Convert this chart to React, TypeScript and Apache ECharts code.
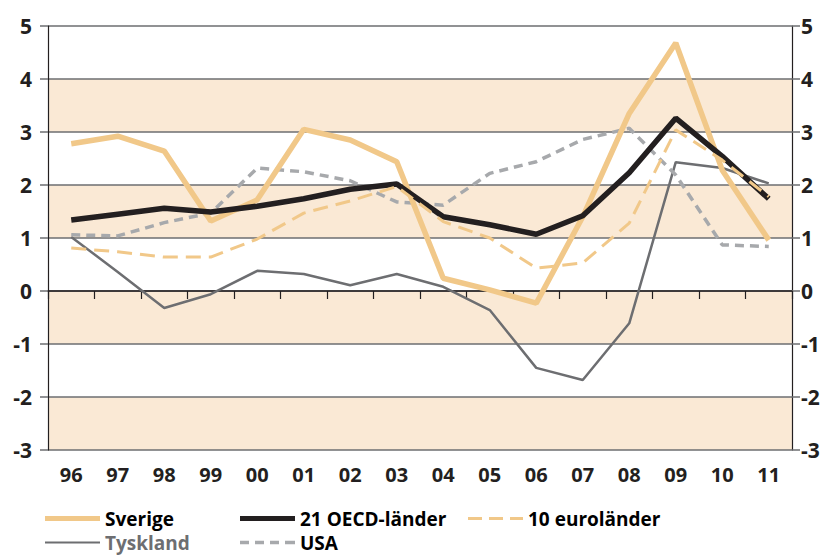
import React, { useEffect, useRef } from "react";
import * as echarts from "echarts";

const categories = ["96", "97", "98", "99", "00", "01", "02", "03", "04", "05", "06", "07", "08", "09", "10", "11"];
const sverige = [2.78, 2.92, 2.64, 1.32, 1.72, 3.05, 2.85, 2.44, 0.24, 0.02, -0.23, 1.4, 3.35, 4.68, 2.28, 0.96];
const oecd = [1.34, 1.45, 1.56, 1.49, 1.6, 1.74, 1.92, 2.02, 1.4, 1.25, 1.07, 1.42, 2.23, 3.26, 2.54, 1.74];
const euro10 = [0.81, 0.74, 0.64, 0.64, 0.98, 1.47, 1.7, 1.97, 1.31, 1.0, 0.43, 0.53, 1.28, 3.04, 2.47, 1.78];
const tyskland = [1.02, 0.36, -0.32, -0.06, 0.38, 0.32, 0.11, 0.32, 0.08, -0.36, -1.45, -1.68, -0.61, 2.43, 2.32, 2.03];
const usa = [1.06, 1.04, 1.29, 1.47, 2.32, 2.25, 2.08, 1.68, 1.62, 2.22, 2.44, 2.86, 3.07, 2.19, 0.87, 0.84];
const yTicks = [-3, -2, -1, 0, 1, 2, 3, 4, 5];

const FONT = "'Liberation Sans Narrow', 'Open Sans', sans-serif";
const ORANGE = "#F1C889";
const BLACK = "#231F20";
const DGRAY = "#6D6E71";
const LGRAY = "#A7A9AC";
const BAND = "#FAE9D5";

export default function App() {
  const ref = useRef<HTMLDivElement>(null);
  useEffect(() => {
    if (!ref.current) return;
    const chart = echarts.init(ref.current, null, { renderer: "svg" });
    const legendBase = {
      itemWidth: 55,
      itemGap: 10,
      padding: 0,
      textStyle: { fontFamily: FONT, fontWeight: "bold" as const, fontSize: 19, color: "#000" },
      selectedMode: false,
    };
    const yAxisBase = {
      type: "value" as const,
      min: -3,
      max: 5,
      interval: 1,
      axisLine: { show: true, lineStyle: { color: "#231F20", width: 1.2 } },
      axisTick: { show: true, length: 8, lineStyle: { color: "#6d6e71", width: 1.5 } },
      splitLine: { show: true, lineStyle: { color: "#6d6e71", width: 1.5 } },
      axisLabel: {
        fontFamily: FONT,
        fontWeight: "bold" as const,
        fontSize: 21,
        color: "#231F20",
        formatter: (v: number) => (yTicks.includes(v) ? String(v) : ""),
      },
    };
    chart.setOption({
      animation: false,
      backgroundColor: "#fff",
      grid: { left: 48, right: 33, top: 26, bottom: 108 },
      legend: [
        { ...legendBase, data: ["Sverige"], left: 45, top: 509, icon: "rect", itemHeight: 5, itemStyle: { color: ORANGE } },
        { ...legendBase, data: ["21 OECD-länder"], left: 240, top: 509, icon: "rect", itemHeight: 5, itemStyle: { color: BLACK } },
        {
          ...legendBase,
          data: ["10 euroländer"],
          left: 468,
          top: 509,
          icon: "path://M0,0h14v3h-14z M21,0h14v3h-14z M42,0h13v3h-13z",
          itemHeight: 3,
          itemStyle: { color: ORANGE },
        },
        {
          ...legendBase,
          data: [{ name: "Tyskland", textStyle: { color: DGRAY } }],
          left: 45,
          top: 533,
          icon: "rect",
          itemHeight: 2,
          itemStyle: { color: DGRAY },
        },
        {
          ...legendBase,
          data: ["USA"],
          left: 240,
          top: 533,
          icon: "path://M0,0h9v3.5h-9z M15,0h9v3.5h-9z M30,0h9v3.5h-9z M45,0h10v3.5h-10z",
          itemHeight: 3.5,
          itemStyle: { color: LGRAY },
        },
      ],
      xAxis: {
        type: "category",
        data: categories,
        boundaryGap: true,
        axisLine: { show: true, lineStyle: { color: "#231F20", width: 1.5 } },
        axisTick: { show: true, length: 8, lineStyle: { color: "#231F20", width: 1.2 } },
        axisLabel: { fontFamily: FONT, fontWeight: "bold", fontSize: 20, color: "#231F20", margin: 14 },
      },
      yAxis: [
        {
          ...yAxisBase,
          position: "left",
          axisLabel: { ...yAxisBase.axisLabel, margin: 16 },
          splitArea: { show: true, areaStyle: { color: [BAND, "#ffffff"] } },
        },
        {
          ...yAxisBase,
          position: "right",
          splitLine: { show: false },
          axisLabel: { ...yAxisBase.axisLabel, margin: 9 },
        },
      ],
      series: [
        {
          name: "Tyskland",
          type: "line",
          data: tyskland,
          symbol: "none",
          lineStyle: { color: DGRAY, width: 2.5 },
          itemStyle: { color: DGRAY },
          z: 2,
        },
        {
          name: "USA",
          type: "line",
          data: usa,
          symbol: "none",
          lineStyle: { color: LGRAY, width: 3.5, type: [9, 6] },
          itemStyle: { color: LGRAY },
          z: 3,
        },
        {
          name: "Sverige",
          type: "line",
          data: sverige,
          symbol: "none",
          lineStyle: { color: ORANGE, width: 5.5 },
          itemStyle: { color: ORANGE },
          z: 4,
        },
        {
          name: "21 OECD-länder",
          type: "line",
          data: oecd,
          symbol: "none",
          lineStyle: { color: BLACK, width: 5.5 },
          itemStyle: { color: BLACK },
          z: 5,
        },
        {
          name: "10 euroländer",
          type: "line",
          data: euro10,
          symbol: "none",
          lineStyle: { color: ORANGE, width: 3, type: [15, 8] },
          itemStyle: { color: ORANGE },
          z: 6,
        },
      ],
    });
    return () => chart.dispose();
  }, []);
  return <div ref={ref} style={{ width: 825, height: 558, position: "absolute", left: 0, top: 0 }} />;
}
